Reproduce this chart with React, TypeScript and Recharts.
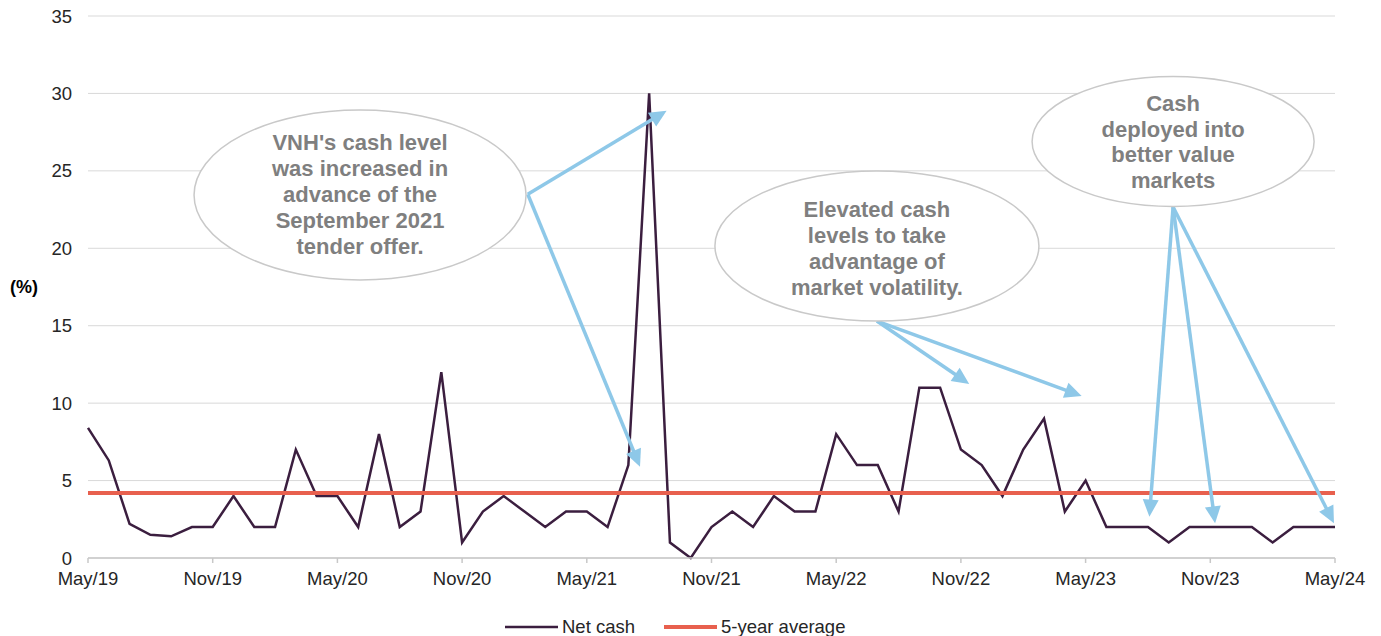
import React from "react";
import {
  CartesianGrid,
  Legend,
  Line,
  LineChart,
  ReferenceDot,
  ReferenceLine,
  XAxis,
  YAxis,
} from "recharts";

// monthly net cash (% of NAV), May/19 .. May/24
const netCash = [
  8.4, 6.3, 2.2, 1.5, 1.4, 2, 2, 4, 2, 2, 7, 4, 4, 2, 8, 2, 3, 12, 1, 3, 4, 3, 2, 3, 3, 2, 6, 30, 1, 0, 2, 3, 2,
  4, 3, 3, 8, 6, 6, 3, 11, 11, 7, 6, 4, 7, 9, 3, 5, 2, 2, 2, 1, 2, 2, 2, 2, 1, 2, 2, 2,
];
const fiveYearAverage = 4.2;

const tickMonths = [0, 6, 12, 18, 24, 30, 36, 42, 48, 54, 60];
const tickLabels = [
  "May/19", "Nov/19", "May/20", "Nov/20", "May/21", "Nov/21",
  "May/22", "Nov/22", "May/23", "Nov/23", "May/24",
];
const yTicks = [0, 5, 10, 15, 20, 25, 30, 35];

// annotation bubbles, in chart coordinates (month index, %)
const bubbles = [
  {
    x: 13.09, y: 23.44, rx: 166, ry: 85, dy: 7,
    lines: ["VNH's cash level", "was increased in", "advance of the", "September 2021", "tender offer."],
  },
  {
    x: 37.96, y: 20.15, rx: 162, ry: 75, dy: 10,
    lines: ["Elevated cash", "levels to take", "advantage of", "market volatility."],
  },
  {
    x: 52.21, y: 26.9, rx: 141, ry: 65, dy: 8,
    lines: ["Cash", "deployed into", "better value", "markets"],
  },
];

const arrows = [
  { from: [21.16, 23.49], to: [27.84, 28.88] },
  { from: [21.16, 23.49], to: [26.56, 5.9] },
  { from: [37.96, 15.3], to: [42.4, 11.24] },
  { from: [37.96, 15.3], to: [47.81, 10.46] },
  { from: [52.21, 22.67], to: [51.07, 2.67] },
  { from: [52.21, 22.67], to: [54.23, 2.24] },
  { from: [52.21, 22.67], to: [59.95, 2.24] },
];

const data = netCash.map((value, month) => ({ month, netCash: value }));

const FONT = "'Liberation Sans', Arial, Helvetica, sans-serif";
const PURPLE = "#3b1e3f";
const RED = "#e8604e";
const BLUE = "#8ec8e8";

const Arrow = (props: any) => {
  const { x1, y1, x2, y2 } = props;
  const dx = x2 - x1;
  const dy = y2 - y1;
  const len = Math.sqrt(dx * dx + dy * dy) || 1;
  const ux = dx / len;
  const uy = dy / len;
  const head = 17;
  const half = 8;
  const bx = x2 - ux * head;
  const by = y2 - uy * head;
  return (
    <g>
      <line x1={x1} y1={y1} x2={bx + ux * 2} y2={by + uy * 2} stroke={BLUE} strokeWidth={3.5} />
      <polygon
        points={`${x2},${y2} ${bx - uy * half},${by + ux * half} ${bx + uy * half},${by - ux * half}`}
        fill={BLUE}
      />
    </g>
  );
};

const Bubble = ({ cx, cy, rx, ry, dy, lines }: any) => {
  const lh = 25.8;
  const first = cy - ((lines.length - 1) * lh) / 2 + dy;
  return (
    <g>
      <ellipse cx={cx} cy={cy} rx={rx} ry={ry} fill="#ffffff" stroke="#c9c9c9" strokeWidth={1.5} />
      <text textAnchor="middle" fontFamily={FONT} fontWeight="bold" fontSize={22} fill="#7f7f7f">
        {lines.map((line: string, i: number) => (
          <tspan key={i} x={cx} y={first + i * lh}>
            {line}
          </tspan>
        ))}
      </text>
    </g>
  );
};

const LegendContent = () => (
  <div style={{ display: "flex", alignItems: "center", marginLeft: 505, fontFamily: FONT, fontSize: 18.5, color: "#262626" }}>
    <svg width={56} height={10}>
      <line x1={0} y1={5} x2={53} y2={5} stroke={PURPLE} strokeWidth={2.5} />
    </svg>
    <span style={{ marginLeft: 1 }}>Net cash</span>
    <svg width={56} height={10} style={{ marginLeft: 29 }}>
      <line x1={0} y1={5} x2={53} y2={5} stroke={RED} strokeWidth={4} />
    </svg>
    <span style={{ marginLeft: 1 }}>5-year average</span>
  </div>
);

const PercentLabel = (props: any) => {
  const { viewBox } = props;
  return (
    <text
      x={10}
      y={viewBox.y + viewBox.height / 2 + 1}
      dominantBaseline="middle"
      fontFamily={FONT}
      fontSize={18}
      fontWeight="bold"
      fill="#000"
    >
      (%)
    </text>
  );
};

export default function App() {
  return (
    <div style={{ position: "absolute", left: 0, top: 0, background: "#fff" }}>
      <LineChart width={1381} height={636} data={data} margin={{ top: 16, right: 46, bottom: 48, left: 0 }}>
        <CartesianGrid vertical={false} stroke="#d9d9d9" strokeWidth={1} />
        <XAxis
          dataKey="month"
          type="number"
          domain={[0, 60]}
          ticks={tickMonths}
          interval={0}
          tickFormatter={(v: number) => tickLabels[tickMonths.indexOf(v)] ?? ""}
          axisLine={{ stroke: "#c8c8c8", strokeWidth: 1.5 }}
          tickLine={{ stroke: "#c8c8c8", strokeWidth: 1.5 }}
          tickSize={5}
          tickMargin={9}
          height={30}
          tick={{ fill: "#262626", fontSize: 18.5, fontFamily: FONT }}
        />
        <YAxis
          type="number"
          domain={[0, 35]}
          ticks={yTicks}
          interval={0}
          width={88}
          axisLine={false}
          tickLine={false}
          tickSize={0}
          tickMargin={16}
          tick={{ fill: "#262626", fontSize: 18.5, fontFamily: FONT }}
          label={<PercentLabel />}
        />
        <Line
          type="linear"
          dataKey="netCash"
          stroke={PURPLE}
          strokeWidth={2.5}
          dot={false}
          activeDot={false}
          isAnimationActive={false}
        />
        <ReferenceLine y={fiveYearAverage} stroke={RED} strokeWidth={4} />
        {bubbles.map((b, i) => (
          <ReferenceDot
            key={`b${i}`}
            x={b.x}
            y={b.y}
            r={0}
            shape={(p: any) => <Bubble cx={p.cx} cy={p.cy} rx={b.rx} ry={b.ry} dy={b.dy} lines={b.lines} />}
          />
        ))}
        {arrows.map((a, i) => (
          <ReferenceLine
            key={`a${i}`}
            segment={[
              { x: a.from[0], y: a.from[1] },
              { x: a.to[0], y: a.to[1] },
            ]}
            shape={(p: any) => <Arrow {...p} />}
          />
        ))}
        <Legend
          verticalAlign="middle"
          align="center"
          layout="horizontal"
          wrapperStyle={{ top: 616, left: 0, width: 1381 }}
          content={() => <LegendContent />}
        />
      </LineChart>
    </div>
  );
}
